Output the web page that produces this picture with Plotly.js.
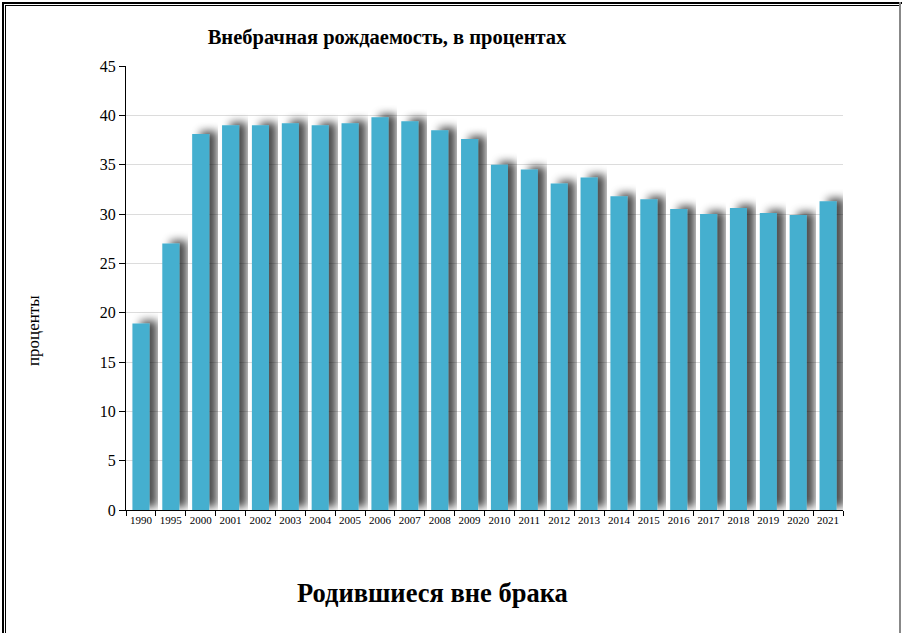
<!DOCTYPE html>
<html>
<head>
<meta charset="utf-8">
<script src="https://cdn.plot.ly/plotly-3.0.1.min.js"></script>
<style>
  html, body { margin: 0; padding: 0; background: #fff; }
  #wrap { position: relative; width: 903px; height: 633px; }
  #chart { width: 903px; height: 633px; }
  #frame1 { position: absolute; left: 2px; top: 2px; width: 898px; height: 640px; border-left: 2px solid #000; border-top: 2px solid #000; pointer-events: none; }
  #frame2 { position: absolute; left: 5px; top: 5px; width: 895px; height: 640px; border-left: 1px solid #000; border-top: 1px solid #000; pointer-events: none; }
  #frame3 { position: absolute; left: 899px; top: 2px; width: 0; height: 640px; border-left: 2px solid #888; pointer-events: none; }
</style>
</head>
<body>
<div id="wrap">
  <div id="chart"></div>
  <div id="frame1"></div>
  <div id="frame2"></div>
  <div id="frame3"></div>
</div>
<script>
const years = ['1990','1995','2000','2001','2002','2003','2004','2005','2006','2007','2008','2009','2010','2011','2012','2013','2014','2015','2016','2017','2018','2019','2020','2021'];
const percents = [18.9, 27.0, 38.1, 39.0, 39.0, 39.2, 39.0, 39.2, 39.8, 39.4, 38.5, 37.6, 35.0, 34.5, 33.1, 33.7, 31.8, 31.5, 30.5, 30.0, 30.6, 30.1, 29.9, 31.3];
const yTicks = [0, 5, 10, 15, 20, 25, 30, 35, 40, 45];

const chartTitle = 'Внебрачная рождаемость, в процентах';
const yTitle = 'проценты';
const bottomText = 'Родившиеся вне брака';

const serif = 'Liberation Serif, Times New Roman, serif';

const trace = {
  type: 'bar',
  x: years,
  y: percents,
  marker: { color: '#45afcf', line: { width: 0 } },
  hoverinfo: 'x+y'
};

const layout = {
  width: 903,
  height: 633,
  margin: { l: 126, r: 60, t: 66, b: 123 },
  paper_bgcolor: '#ffffff',
  plot_bgcolor: '#ffffff',
  bargap: 0.43,
  showlegend: false,
  title: {
    text: '<b>' + chartTitle + '</b>',
    font: { family: serif, size: 20.5, color: '#000' },
    xref: 'container', yref: 'container',
    x: 387 / 903, xanchor: 'center',
    y: 1 - 37 / 633, yanchor: 'middle'
  },
  xaxis: {
    type: 'category',
    showgrid: false,
    showline: true,
    linecolor: '#000',
    linewidth: 1,
    ticks: 'outside',
    tickson: 'boundaries',
    ticklen: 5,
    tickcolor: '#000',
    tickfont: { family: serif, size: 11, color: '#000' },
    tickangle: 0,
    zeroline: false
  },
  yaxis: {
    range: [0, 45],
    tickvals: yTicks,
    ticktext: yTicks.map(String),
    showgrid: true,
    gridcolor: '#dcdcdc',
    gridwidth: 1,
    showline: true,
    linecolor: '#000',
    linewidth: 1,
    ticks: 'outside',
    ticklen: 6,
    tickcolor: '#000',
    tickfont: { family: serif, size: 16, color: '#000' },
    zeroline: false
  },
  annotations: [
    {
      text: yTitle,
      xref: 'paper', yref: 'paper',
      x: (33 - 126) / 717, y: (510 - 331) / 444,
      xanchor: 'center', yanchor: 'middle',
      textangle: -90,
      showarrow: false,
      font: { family: serif, size: 17, color: '#000' }
    },
    {
      text: '<b>' + bottomText + '</b>',
      xref: 'paper', yref: 'paper',
      x: (432 - 126) / 717, y: -(593 - 510) / 444,
      xanchor: 'center', yanchor: 'middle',
      showarrow: false,
      font: { family: serif, size: 26.5, color: '#000' }
    }
  ]
};

Plotly.newPlot('chart', [trace], layout, { displayModeBar: false, staticPlot: true }).then(function (gd) {
  const svg = gd.querySelector('svg.main-svg');
  const ns = 'http://www.w3.org/2000/svg';
  let defs = svg.querySelector('defs');
  if (!defs) { defs = document.createElementNS(ns, 'defs'); svg.insertBefore(defs, svg.firstChild); }
  const f = document.createElementNS(ns, 'filter');
  f.setAttribute('id', 'barShadow');
  f.setAttribute('x', '-50%'); f.setAttribute('y', '-10%');
  f.setAttribute('width', '200%'); f.setAttribute('height', '120%');
  f.innerHTML = '<feGaussianBlur in="SourceAlpha" stdDeviation="4" result="b"/>' +
    '<feOffset in="b" dx="8" dy="-3" result="o"/>' +
    '<feComponentTransfer in="o" result="s"><feFuncA type="linear" slope="0.7"/></feComponentTransfer>' +
    '<feMerge><feMergeNode in="s"/><feMergeNode in="SourceGraphic"/></feMerge>';
  defs.appendChild(f);
  gd.querySelectorAll('.barlayer .point path').forEach(function (p) {
    p.setAttribute('filter', 'url(#barShadow)');
  });
});
</script>
</body>
</html>
